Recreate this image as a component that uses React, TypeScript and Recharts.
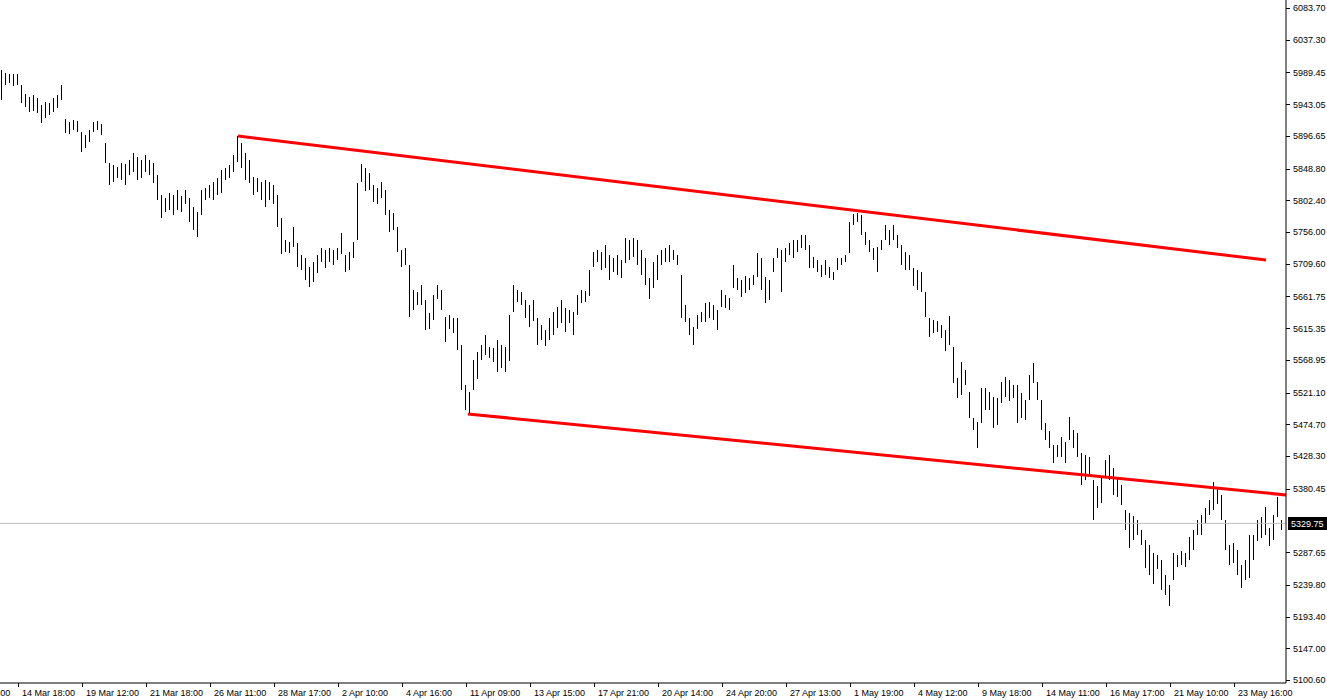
import { ComposedChart, Bar, XAxis, YAxis, ReferenceLine } from 'recharts';

// bar highs / lows, one per bar, oldest first
const highs = [
  5993, 5989, 5987, 5987, 5987, 5971, 5958, 5954, 5956, 5952,
  5942, 5946, 5945, 5952, 5956, 5971, 5921, 5917, 5920, 5918,
  5902, 5898, 5905, 5917, 5918, 5914, 5886, 5857, 5854, 5851,
  5857, 5855, 5861, 5872, 5866, 5861, 5869, 5861, 5857, 5839,
  5810, 5806, 5813, 5810, 5817, 5808, 5817, 5806, 5793, 5785,
  5817, 5820, 5825, 5829, 5835, 5847, 5850, 5854, 5869, 5896,
  5886, 5872, 5861, 5836, 5835, 5829, 5832, 5829, 5825, 5810,
  5777, 5744, 5741, 5763, 5740, 5722, 5718, 5705, 5712, 5722,
  5733, 5730, 5733, 5730, 5733, 5755, 5722, 5727, 5741, 5828,
  5855, 5850, 5842, 5825, 5820, 5829, 5817, 5788, 5784, 5763,
  5730, 5733, 5708, 5671, 5668, 5678, 5657, 5637, 5664, 5678,
  5671, 5632, 5634, 5630, 5630, 5591, 5532, 5522, 5569, 5581,
  5591, 5605, 5588, 5586, 5598, 5591, 5588, 5634, 5678, 5671,
  5668, 5657, 5649, 5657, 5630, 5620, 5613, 5630, 5639, 5646,
  5657, 5645, 5642, 5639, 5664, 5671, 5670, 5700, 5727, 5730,
  5727, 5737, 5722, 5718, 5722, 5715, 5747, 5744, 5747, 5744,
  5730, 5718, 5689, 5712, 5722, 5730, 5733, 5737, 5730, 5722,
  5693, 5649, 5630, 5617, 5634, 5639, 5652, 5654, 5649, 5642,
  5671, 5664, 5660, 5708, 5689, 5686, 5692, 5689, 5693, 5725,
  5718, 5690, 5686, 5718, 5733, 5730, 5733, 5740, 5744, 5744,
  5752, 5752, 5737, 5719, 5715, 5708, 5715, 5705, 5697, 5718,
  5718, 5722, 5771, 5782, 5784, 5781, 5756, 5744, 5733, 5734,
  5744, 5766, 5759, 5766, 5752, 5737, 5727, 5722, 5703, 5700,
  5697, 5668, 5630, 5627, 5626, 5620, 5613, 5633, 5588, 5542,
  5566, 5554, 5522, 5484, 5478, 5528, 5528, 5522, 5515, 5513,
  5537, 5544, 5540, 5532, 5532, 5520, 5510, 5547, 5564, 5537,
  5510, 5477, 5465, 5444, 5444, 5456, 5449, 5485, 5466, 5462,
  5433, 5430, 5427, 5393, 5384, 5396, 5422, 5430, 5411, 5396,
  5386, 5349, 5345, 5340, 5335, 5320, 5305, 5298, 5286, 5283,
  5276, 5254, 5240, 5286, 5283, 5289, 5286, 5310, 5320, 5335,
  5342, 5352, 5364, 5390, 5381, 5371, 5335, 5298, 5301, 5291,
  5269, 5276, 5313, 5313, 5335, 5339, 5354, 5323, 5342, 5368, 5335,
];

const lows = [
  5949, 5971, 5974, 5970, 5971, 5945, 5939, 5932, 5932, 5930,
  5915, 5923, 5927, 5932, 5937, 5949, 5901, 5899, 5905, 5902,
  5873, 5879, 5888, 5902, 5905, 5898, 5857, 5825, 5829, 5835,
  5832, 5825, 5839, 5844, 5832, 5835, 5844, 5839, 5828, 5803,
  5776, 5785, 5788, 5781, 5788, 5785, 5796, 5771, 5759, 5749,
  5781, 5803, 5806, 5803, 5810, 5814, 5832, 5835, 5844, 5858,
  5850, 5832, 5828, 5810, 5814, 5803, 5793, 5803, 5797, 5763,
  5725, 5727, 5725, 5734, 5705, 5700, 5686, 5676, 5683, 5696,
  5712, 5703, 5712, 5708, 5715, 5725, 5697, 5700, 5718, 5744,
  5828, 5817, 5817, 5800, 5797, 5806, 5781, 5756, 5759, 5727,
  5705, 5708, 5632, 5642, 5649, 5649, 5613, 5613, 5627, 5657,
  5642, 5595, 5613, 5608, 5583, 5525, 5496, 5490, 5525, 5542,
  5569, 5576, 5572, 5566, 5551, 5557, 5551, 5566, 5639, 5654,
  5649, 5630, 5617, 5627, 5591, 5598, 5589, 5598, 5605, 5615,
  5624, 5610, 5623, 5605, 5635, 5652, 5654, 5662, 5705, 5712,
  5700, 5703, 5686, 5697, 5693, 5689, 5711, 5715, 5719, 5708,
  5693, 5678, 5659, 5674, 5686, 5708, 5712, 5712, 5715, 5708,
  5630, 5624, 5605, 5591, 5613, 5624, 5624, 5630, 5627, 5613,
  5646, 5645, 5642, 5674, 5671, 5661, 5667, 5671, 5678, 5690,
  5671, 5652, 5657, 5697, 5718, 5668, 5712, 5722, 5718, 5727,
  5733, 5730, 5703, 5703, 5697, 5690, 5693, 5689, 5686, 5700,
  5708, 5712, 5725, 5766, 5771, 5752, 5737, 5727, 5715, 5697,
  5730, 5744, 5737, 5744, 5733, 5708, 5700, 5700, 5676, 5671,
  5668, 5632, 5602, 5608, 5610, 5601, 5583, 5591, 5535, 5513,
  5518, 5532, 5484, 5466, 5440, 5477, 5496, 5496, 5469, 5474,
  5506, 5515, 5510, 5513, 5477, 5484, 5481, 5510, 5535, 5510,
  5466, 5452, 5440, 5418, 5427, 5427, 5418, 5452, 5440, 5427,
  5386, 5393, 5400, 5335, 5352, 5359, 5398, 5393, 5371, 5368,
  5357, 5320, 5294, 5305, 5313, 5298, 5264, 5254, 5240, 5262,
  5232, 5225, 5209, 5247, 5266, 5269, 5266, 5276, 5291, 5313,
  5313, 5330, 5342, 5349, 5357, 5335, 5291, 5269, 5272, 5254,
  5235, 5247, 5250, 5276, 5305, 5308, 5313, 5297, 5305, 5339, 5320,
];

// one label every 16 bars, first one is cut off at the left edge
const timeLabels = [
  '12 Mar 11:00', '14 Mar 18:00', '19 Mar 12:00', '21 Mar 18:00', '26 Mar 11:00',
  '28 Mar 17:00', '2 Apr 10:00', '4 Apr 16:00', '11 Apr 09:00', '13 Apr 15:00',
  '17 Apr 21:00', '20 Apr 14:00', '24 Apr 20:00', '27 Apr 13:00', '1 May 19:00',
  '4 May 12:00', '9 May 18:00', '14 May 11:00', '16 May 17:00', '21 May 10:00',
  '23 May 16:00',
];

const priceTicks = [
  6083.7, 6037.3, 5989.45, 5943.05, 5896.65, 5848.8, 5802.4, 5756.0, 5709.6,
  5661.75, 5615.35, 5568.95, 5521.1, 5474.7, 5428.3, 5380.45, 5287.65,
  5239.8, 5193.4, 5147.0, 5100.6,
];

const lastPrice = 5329.75;

// trend lines as [bar, price] end points
const upperTrend = [
  { bar: 59, price: 5896.4 },
  { bar: 316, price: 5715.0 },
];
const lowerTrend = [
  { bar: 116.5, price: 5489.8 },
  { bar: 321, price: 5371.3 },
];

const data = highs.map((h, i) => ({ i, range: [lows[i], h] }));
const labelBars = timeLabels.map((_, k) => -12 + 16 * k);

const FONT = '"Liberation Sans", Arial, sans-serif';

const OhlcBar = (props: any) => {
  const { x, y, width, height } = props;
  if (x == null || y == null) return null;
  const cx = Math.floor(x + width / 2);
  const top = Math.min(y, y + height);
  const h = Math.max(1, Math.abs(height));
  return (
    <rect
      x={cx}
      y={Math.round(top)}
      width={1}
      height={Math.round(h)}
      fill="#000"
      shapeRendering="crispEdges"
    />
  );
};

const TimeTick = (props: any) => {
  const { x, y, payload } = props;
  const k = Math.round((payload.value + 12) / 16);
  return (
    <g>
      <line x1={x + 0.5} x2={x + 0.5} y1={y} y2={y + 4} stroke="#000" shapeRendering="crispEdges" />
      <text x={x + 4} y={y + 13} fontSize={9} fontFamily={FONT} fill="#000">
        {timeLabels[k]}
      </text>
    </g>
  );
};

const PriceTick = (props: any) => {
  const { x, y, payload } = props;
  const yy = Math.round(y) + 0.5;
  return (
    <g>
      <line x1={x} x2={x + 4} y1={yy} y2={yy} stroke="#000" shapeRendering="crispEdges" />
      <text x={x + 7} y={y + 3.5} fontSize={9} fontFamily={FONT} fill="#000">
        {payload.value.toFixed(2)}
      </text>
    </g>
  );
};

const PriceTag = (props: any) => {
  const vb = props.viewBox;
  if (!vb) return null;
  const left = vb.x + vb.width + 2;
  return (
    <g>
      <rect x={left} y={Math.round(vb.y) - 6} width={39} height={13} fill="#000" />
      <text x={left + 3} y={vb.y + 3.5} fontSize={9} fontFamily={FONT} fill="#fff">
        {lastPrice.toFixed(2)}
      </text>
    </g>
  );
};

export default function App() {
  return (
    <div style={{ position: 'absolute', left: 0, top: 0, background: '#fff' }}>
      <ComposedChart
        width={1327}
        height={700}
        data={data}
        margin={{ top: 0, right: 0, bottom: 0, left: 0 }}
        style={{ fontFamily: FONT }}
      >
        <XAxis
          dataKey="i"
          type="number"
          domain={[-0.5, 321]}
          allowDataOverflow
          ticks={labelBars}
          interval={0}
          tickSize={0}
          tickMargin={0}
          tick={<TimeTick />}
          axisLine={{ stroke: '#000' }}
          height={17}
        />
        <YAxis
          orientation="right"
          type="number"
          domain={[5096.21, 6095.4]}
          allowDataOverflow
          ticks={priceTicks}
          interval={0}
          tickSize={0}
          tickMargin={0}
          tick={<PriceTick />}
          axisLine={{ stroke: '#000' }}
          width={41}
        />
        <ReferenceLine y={lastPrice} stroke="#c0c0c0" strokeWidth={1} label={<PriceTag />} />
        <Bar dataKey="range" barSize={1} shape={<OhlcBar />} isAnimationActive={false} />
        <ReferenceLine
          segment={upperTrend.map((p) => ({ x: p.bar, y: p.price }))}
          stroke="#ff0000"
          strokeWidth={3}
        />
        <ReferenceLine
          segment={lowerTrend.map((p) => ({ x: p.bar, y: p.price }))}
          stroke="#ff0000"
          strokeWidth={3}
        />
      </ComposedChart>
    </div>
  );
}
